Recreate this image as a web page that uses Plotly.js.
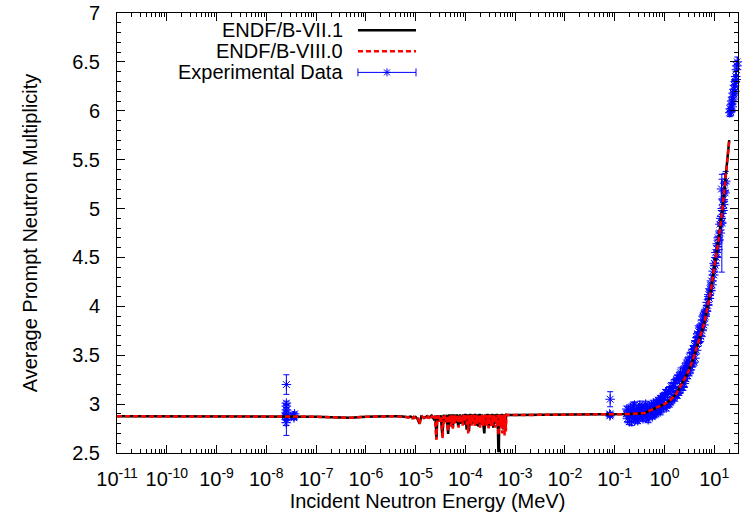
<!DOCTYPE html>
<html>
<head>
<meta charset="utf-8">
<script src="https://cdn.plot.ly/plotly-3.0.1.min.js"></script>
<style>html,body{margin:0;padding:0;background:#fff;}#chart{width:744px;height:520px;}</style>
</head>
<body>
<div id="chart"></div>
<script>
// ---------- smooth parts of the evaluated curves (MeV, nu-bar) ----------
const lowE  = [1e-11, 1e-9, 2.5e-8, 1e-7, 2e-7, 3.5e-7, 5e-7, 8e-7, 1.5e-6, 4e-6];
const lowNu = [2.875, 2.875, 2.875, 2.872, 2.865, 2.858, 2.860, 2.868, 2.874, 2.875];

const highE  = [1e-3, 1e-2, 0.05, 0.1, 0.2, 0.4, 0.7, 1.0, 1.3, 1.7, 2.3, 3.0, 3.7, 5.0, 6.3, 7.4, 8.6, 10, 12.6, 15, 17, 20];
const highNu = [2.888, 2.889, 2.892, 2.895, 2.898, 2.91, 2.96, 3.00, 3.04, 3.10, 3.22, 3.33, 3.45, 3.66, 3.83, 4.00, 4.17, 4.40, 4.73, 5.05, 5.32, 5.70];

// ---------- resolved resonance region, ENDF/B-VII.1 ----------
const resE71 = [5.5e-6, 7e-6, 8e-6, 9e-6, 1.0e-5, 1.1e-5, 1.2e-5, 1.3e-5, 1.5e-5, 1.7e-5, 1.9e-5, 2.1e-5, 2.3e-5, 2.5e-5, 2.62e-5, 2.75e-5,
  3.0e-5, 3.2e-5, 3.45e-5, 3.65e-5, 3.9e-5, 4.2e-5, 4.5e-5, 4.75e-5, 5.0e-5, 5.3e-5, 5.6e-5, 5.9e-5, 6.3e-5, 6.7e-5, 7.2e-5, 7.7e-5,
  8.3e-5, 8.9e-5, 9.5e-5, 1.0e-4, 1.06e-4, 1.12e-4, 1.18e-4, 1.25e-4, 1.32e-4, 1.40e-4, 1.48e-4, 1.56e-4, 1.65e-4, 1.74e-4, 1.84e-4,
  1.94e-4, 2.05e-4, 2.16e-4, 2.28e-4, 2.40e-4, 2.52e-4, 2.65e-4, 2.79e-4, 2.94e-4, 3.1e-4, 3.27e-4, 3.45e-4, 3.64e-4, 3.84e-4, 4.05e-4,
  4.27e-4, 4.5e-4, 4.6e-4, 4.7e-4, 4.8e-4, 5.1e-4, 5.4e-4, 5.7e-4, 6.0e-4, 6.3e-4, 6.6e-4, 7.0e-4];
const resNu71 = [2.874, 2.865, 2.872, 2.858, 2.868, 2.845, 2.80, 2.874, 2.86, 2.876, 2.865, 2.882, 2.85, 2.88, 2.65, 2.885,
  2.83, 2.885, 2.67, 2.89, 2.82, 2.89, 2.695, 2.895, 2.80, 2.895, 2.76, 2.895, 2.81, 2.895, 2.77, 2.895,
  2.80, 2.895, 2.79, 2.90, 2.74, 2.895, 2.72, 2.90, 2.79, 2.895, 2.80, 2.90, 2.78, 2.895, 2.77,
  2.90, 2.79, 2.895, 2.76, 2.70, 2.895, 2.80, 2.90, 2.77, 2.895, 2.79, 2.90, 2.76, 2.895, 2.80,
  2.90, 2.75, 2.52, 2.52, 2.895, 2.77, 2.90, 2.74, 2.895, 2.73, 2.89, 2.888];

// ---------- resolved resonance region, ENDF/B-VIII.0 ----------
const resE80 = [5.5e-6, 6.5e-6, 7.2e-6, 7.8e-6, 8.5e-6, 9.2e-6, 1.0e-5, 1.08e-5, 1.15e-5, 1.2e-5, 1.25e-5, 1.35e-5, 1.45e-5, 1.55e-5,
  1.65e-5, 1.75e-5, 1.85e-5, 1.95e-5, 2.05e-5, 2.15e-5, 2.3e-5, 2.45e-5, 2.55e-5, 2.62e-5, 2.7e-5, 2.8e-5, 2.9e-5, 3.05e-5, 3.2e-5,
  3.4e-5, 3.5e-5, 3.6e-5, 3.75e-5, 3.9e-5, 4.1e-5, 4.3e-5, 4.45e-5, 4.6e-5, 4.8e-5, 5.0e-5, 5.2e-5, 5.4e-5, 5.6e-5, 5.8e-5, 6.0e-5,
  6.3e-5, 6.6e-5, 6.9e-5, 7.3e-5, 7.7e-5, 8.0e-5, 8.4e-5, 8.8e-5, 9.2e-5, 9.6e-5, 1.0e-4, 1.05e-4, 1.1e-4, 1.14e-4, 1.18e-4, 1.23e-4,
  1.28e-4, 1.33e-4, 1.38e-4, 1.43e-4, 1.48e-4, 1.53e-4, 1.58e-4, 1.63e-4, 1.68e-4, 1.74e-4, 1.80e-4, 1.86e-4, 1.92e-4, 1.98e-4,
  2.05e-4, 2.12e-4, 2.19e-4, 2.26e-4, 2.33e-4, 2.41e-4, 2.49e-4, 2.57e-4, 2.65e-4, 2.74e-4, 2.83e-4, 2.92e-4, 3.01e-4, 3.11e-4,
  3.21e-4, 3.31e-4, 3.42e-4, 3.53e-4, 3.64e-4, 3.76e-4, 3.88e-4, 4.0e-4, 4.13e-4, 4.26e-4, 4.40e-4, 4.54e-4, 4.63e-4, 4.72e-4,
  4.87e-4, 5.02e-4, 5.18e-4, 5.34e-4, 5.5e-4, 5.66e-4, 5.82e-4, 5.98e-4, 6.14e-4, 6.3e-4, 6.5e-4, 6.7e-4, 7.0e-4];
const resNu80 = [2.874, 2.868, 2.862, 2.872, 2.855, 2.870, 2.850, 2.868, 2.835, 2.79, 2.862, 2.876, 2.858, 2.873,
  2.85, 2.874, 2.862, 2.878, 2.86, 2.88, 2.845, 2.88, 2.70, 2.635, 2.88, 2.84, 2.885, 2.82, 2.88,
  2.66, 2.65, 2.88, 2.80, 2.885, 2.83, 2.88, 2.72, 2.885, 2.81, 2.89, 2.77, 2.885, 2.75, 2.89, 2.80,
  2.885, 2.82, 2.89, 2.76, 2.89, 2.81, 2.885, 2.78, 2.89, 2.83, 2.89, 2.79, 2.885, 2.70, 2.89, 2.80,
  2.89, 2.78, 2.885, 2.82, 2.89, 2.77, 2.89, 2.80, 2.885, 2.79, 2.89, 2.81, 2.89, 2.76,
  2.885, 2.80, 2.89, 2.78, 2.885, 2.82, 2.89, 2.77, 2.885, 2.79, 2.89, 2.75, 2.89, 2.80,
  2.885, 2.77, 2.89, 2.78, 2.885, 2.81, 2.89, 2.76, 2.885, 2.79, 2.89, 2.74, 2.68, 2.89,
  2.78, 2.885, 2.76, 2.89, 2.70, 2.885, 2.75, 2.89, 2.68, 2.885, 2.72, 2.89, 2.888];

// ---------- experimental data (MeV, nu-bar, uncertainty) ----------
const expE = [
  2.4e-8, 2.53e-8, 2.53e-8, 2.53e-8, 2.53e-8, 2.53e-8, 2.53e-8, 2.6e-8, 2.53e-8, 2.5e-8, 2.55e-8, 3.5e-8, 3.6e-8, 3.7e-8, 3.6e-8,
  0.081, 0.079, 0.082, 0.080,
  0.17, 0.175, 0.18, 0.19, 0.195, 0.20, 0.21, 0.215, 0.22, 0.23, 0.235, 0.24, 0.25, 0.255, 0.26, 0.27, 0.28, 0.29, 0.30, 0.31,
  0.32, 0.33, 0.34, 0.35, 0.36, 0.37, 0.38, 0.39, 0.40, 0.42, 0.43, 0.44, 0.46, 0.47, 0.48, 0.50, 0.52, 0.53, 0.55, 0.57, 0.58,
  0.60, 0.62, 0.63, 0.65, 0.67, 0.68, 0.70, 0.72, 0.74, 0.75, 0.78, 0.80, 0.82, 0.83, 0.86, 0.88, 0.90, 0.93, 0.96, 0.98, 1.00,
  1.05, 1.08, 1.10, 1.15, 1.18, 1.20, 1.25, 1.30, 1.32, 1.35, 1.40, 1.45, 1.50, 1.55, 1.60, 1.65, 1.70, 1.75, 1.80, 1.85, 1.90,
  1.95, 2.00, 2.05, 2.10, 2.15, 2.20, 2.30, 2.35, 2.40, 2.50, 2.55, 2.60, 2.70, 2.75, 2.80, 2.90, 2.95, 3.00, 3.10, 3.20, 3.30,
  3.40, 3.50, 3.60, 3.70, 3.80, 3.90, 4.00, 4.10, 4.20, 4.30, 4.40, 4.50, 4.65, 4.80, 4.90, 5.00, 5.20, 5.40, 5.50, 5.70, 5.80,
  6.00, 6.20, 6.30, 6.60, 6.80, 7.00, 7.20, 7.40, 7.80, 8.00, 8.20, 8.60, 8.80, 9.00, 9.50, 9.80, 10.0, 10.5, 10.8, 11.0, 11.5,
  11.8, 12.0, 12.5, 13.0, 13.2, 13.5, 14.0, 14.0, 14.2, 14.5, 15.0, 15.2, 15.5, 16.0, 16.2, 16.5, 17.0,
  20.5, 21.0, 21.5, 22.0, 22.5, 23.0, 23.5, 24.0, 24.5, 25.0, 25.5, 26.0, 26.5, 27.0, 27.5, 28.0, 28.5, 29.0];
const expNu = [
  2.88, 3.20, 3.01, 2.98, 2.94, 2.91, 2.87, 2.86, 2.84, 2.81, 2.89, 2.88, 2.86, 2.90, 2.875,
  3.05, 2.90, 2.89, 2.88,
  2.90, 2.95, 2.85, 2.94, 2.82, 2.88, 2.96, 2.90, 2.82, 2.91, 2.98, 2.89, 2.99, 2.87, 2.84, 2.93, 2.90, 2.83, 2.96, 2.86,
  2.99, 2.92, 2.89, 2.97, 2.88, 2.85, 2.94, 2.97, 2.91, 3.00, 2.92, 2.86, 2.95, 2.84, 2.92, 2.98, 2.89, 2.95, 2.99, 2.87, 2.93,
  3.01, 2.89, 2.98, 2.95, 2.90, 3.02, 2.93, 2.98, 2.93, 3.04, 2.95, 3.00, 2.92, 3.06, 2.95, 3.05, 3.01, 3.08, 2.97, 3.07, 3.07,
  3.12, 2.96, 3.00, 3.10, 3.01, 3.14, 3.00, 3.12, 3.02, 3.18, 3.04, 3.16, 3.07, 3.21, 3.06, 3.22, 3.10, 3.25, 3.09, 3.27, 3.14,
  3.12, 3.29, 3.14, 3.32, 3.27, 3.18, 3.29, 3.17, 3.35, 3.21, 3.33, 3.38, 3.26, 3.36, 3.42, 3.29, 3.40, 3.44, 3.32, 3.48, 3.35,
  3.38, 3.52, 3.41, 3.53, 3.56, 3.43, 3.60, 3.47, 3.59, 3.65, 3.55, 3.68, 3.72, 3.63, 3.74, 3.67, 3.78, 3.69, 3.81, 3.75, 3.86,
  3.90, 3.81, 3.92, 3.90, 3.96, 3.95, 4.04, 4.01, 4.12, 4.08, 4.18, 4.16, 4.26, 4.22, 4.36, 4.32, 4.44, 4.42, 4.55, 4.50, 4.64,
  4.58, 4.70, 4.68, 4.84, 4.75, 4.90, 4.86, 5.20, 4.85, 5.00, 4.98, 5.09, 5.04, 5.18, 5.26, 5.16, 5.28,
  5.98, 6.02, 5.99, 6.06, 6.10, 6.04, 6.14, 6.18, 6.12, 6.22, 6.26, 6.20, 6.30, 6.35, 6.32, 6.42, 6.46, 6.50];
const expErr = [
  0.02, 0.10, 0.02, 0.015, 0.02, 0.02, 0.03, 0.02, 0.16, 0.03, 0.05, 0.03, 0.02, 0.02, 0.03,
  0.077, 0.015, 0.015, 0.01,
  0.03, 0.03, 0.04, 0.03, 0.03, 0.02, 0.04, 0.02, 0.04, 0.02, 0.04, 0.03, 0.03, 0.03, 0.03, 0.02, 0.05, 0.03, 0.03, 0.02,
  0.04, 0.03, 0.03, 0.03, 0.02, 0.03, 0.04, 0.02, 0.02, 0.03, 0.03, 0.03, 0.02, 0.03, 0.03, 0.03, 0.02, 0.03, 0.03, 0.02, 0.02,
  0.03, 0.03, 0.03, 0.02, 0.03, 0.03, 0.04, 0.02, 0.03, 0.03, 0.03, 0.02, 0.03, 0.03, 0.04, 0.03, 0.03, 0.03, 0.02, 0.03, 0.03,
  0.03, 0.03, 0.04, 0.03, 0.04, 0.03, 0.03, 0.02, 0.03, 0.04, 0.03, 0.03, 0.03, 0.04, 0.03, 0.04, 0.03, 0.04, 0.03, 0.03, 0.03,
  0.03, 0.04, 0.03, 0.05, 0.04, 0.03, 0.04, 0.03, 0.04, 0.03, 0.04, 0.04, 0.03, 0.03, 0.04, 0.03, 0.04, 0.04, 0.03, 0.05, 0.04,
  0.04, 0.04, 0.03, 0.04, 0.04, 0.04, 0.04, 0.05, 0.05, 0.04, 0.04, 0.05, 0.08, 0.04, 0.05, 0.05, 0.04, 0.05, 0.05, 0.05, 0.05,
  0.04, 0.05, 0.05, 0.05, 0.05, 0.05, 0.06, 0.06, 0.05, 0.06, 0.06, 0.05, 0.06, 0.06, 0.06, 0.06, 0.06, 0.07, 0.07, 0.06, 0.07,
  0.07, 0.07, 0.07, 0.08, 0.08, 0.08, 0.08, 0.10, 0.50, 0.08, 0.08, 0.09, 0.09, 0.09, 0.10, 0.09, 0.10,
  0.04, 0.05, 0.04, 0.05, 0.04, 0.05, 0.05, 0.04, 0.05, 0.05, 0.05, 0.04, 0.05, 0.05, 0.04, 0.05, 0.05, 0.05];

// ---------- labels ----------
const seriesNames = ['ENDF/B-VII.1', 'ENDF/B-VIII.0', 'Experimental Data'];
const xTickVals = [1e-11, 1e-10, 1e-9, 1e-8, 1e-7, 1e-6, 1e-5, 1e-4, 1e-3, 1e-2, 1e-1, 1e0, 1e1];
const xTickText = ['-11', '-10', '-9', '-8', '-7', '-6', '-5', '-4', '-3', '-2', '-1', '0', '1'].map(p => '10<sup>' + p + '</sup>');
const xTitle = 'Incident Neutron Energy (MeV)';
const yTitle = 'Average Prompt Neutron Multiplicity';

const FONT = 'Liberation Sans, Arial, Helvetica, sans-serif';
const BLUE = '#0000ff';

const traces = [
  {
    x: expE, y: expNu, type: 'scatter', mode: 'markers', name: seriesNames[2],
    marker: {symbol: 'asterisk-open', size: 8, color: BLUE, line: {color: BLUE, width: 1}},
    error_y: {type: 'data', array: expErr, visible: true, color: BLUE, thickness: 1, width: 3},
    cliponaxis: false
  },
  {
    x: lowE.concat(resE71, highE), y: lowNu.concat(resNu71, highNu),
    type: 'scatter', mode: 'lines', name: seriesNames[0],
    line: {color: '#000000', width: 2.5}
  },
  {
    x: lowE.concat(resE80, highE), y: lowNu.concat(resNu80, highNu),
    type: 'scatter', mode: 'lines', name: seriesNames[1],
    line: {color: '#ff0000', width: 2.5, dash: '5px,3px'}
  }
];

// plot-area geometry (paper fractions) for the gnuplot-style key
const keyTextX = 0.367, keySampleX0 = 0.388, keySampleX1 = 0.4815, keyRowsY = [0.961, 0.913, 0.865];

const annotations = seriesNames.map((n, i) => ({
  text: n, xref: 'paper', yref: 'paper', x: keyTextX, y: keyRowsY[i],
  xanchor: 'right', yanchor: 'middle', showarrow: false,
  font: {family: FONT, size: 20, color: '#000'}
}));

const shapes = [
  {type: 'line', xref: 'paper', yref: 'paper', x0: keySampleX0, x1: keySampleX1, y0: keyRowsY[0], y1: keyRowsY[0], line: {color: '#000', width: 2.5}},
  {type: 'line', xref: 'paper', yref: 'paper', x0: keySampleX0, x1: keySampleX1, y0: keyRowsY[1], y1: keyRowsY[1], line: {color: '#ff0000', width: 2.5, dash: '5px,3px'}},
  {type: 'line', xref: 'paper', yref: 'paper', x0: keySampleX0, x1: keySampleX1, y0: keyRowsY[2], y1: keyRowsY[2], line: {color: BLUE, width: 1}},
  {type: 'line', xref: 'paper', yref: 'paper', ysizemode: 'pixel', yanchor: keyRowsY[2], x0: keySampleX0, x1: keySampleX0, y0: -4, y1: 4, line: {color: BLUE, width: 1}},
  {type: 'line', xref: 'paper', yref: 'paper', ysizemode: 'pixel', yanchor: keyRowsY[2], x0: keySampleX1, x1: keySampleX1, y0: -4, y1: 4, line: {color: BLUE, width: 1}}
];
// asterisk sample in the key
const midX = (keySampleX0 + keySampleX1) / 2;
[[-4, 0, 4, 0], [0, -4, 0, 4], [-3, -3, 3, 3], [-3, 3, 3, -3]].forEach(s => shapes.push({
  type: 'line', xref: 'paper', yref: 'paper', xsizemode: 'pixel', ysizemode: 'pixel', xanchor: midX, yanchor: keyRowsY[2],
  x0: s[0], y0: s[1], x1: s[2], y1: s[3], line: {color: BLUE, width: 1}
}));

const layout = {
  width: 744, height: 520,
  margin: {l: 117, r: 6, t: 13, b: 67, pad: 0},
  paper_bgcolor: '#fff', plot_bgcolor: '#fff',
  showlegend: false,
  font: {family: FONT, size: 20, color: '#000'},
  xaxis: {
    type: 'log', range: [-11, Math.log10(30)], autorange: false,
    tickmode: 'array', tickvals: xTickVals, ticktext: xTickText,
    ticks: 'inside', ticklen: 8, tickwidth: 1, tickcolor: '#000',
    minor: {dtick: 'D1', ticks: 'inside', ticklen: 4, tickwidth: 1, tickcolor: '#000', showgrid: false},
    showline: true, linecolor: '#000', linewidth: 1, mirror: 'ticks',
    showgrid: false, zeroline: false, automargin: false,
    tickfont: {family: FONT, size: 20, color: '#000'}, ticklabelstandoff: 8,
    title: {text: xTitle, font: {family: FONT, size: 20, color: '#000'}, standoff: 0}
  },
  yaxis: {
    range: [2.5, 7], autorange: false, dtick: 0.5, tick0: 2.5,
    ticks: 'inside', ticklen: 8, tickwidth: 1, tickcolor: '#000',
    minor: {dtick: 0.1, ticks: 'inside', ticklen: 4, tickwidth: 1, tickcolor: '#000', showgrid: false},
    showline: true, linecolor: '#000', linewidth: 1, mirror: 'ticks',
    showgrid: false, zeroline: false, automargin: false,
    tickfont: {family: FONT, size: 20, color: '#000'}, ticklabelstandoff: 12,
    title: {text: yTitle, font: {family: FONT, size: 20, color: '#000'}, standoff: 29}
  },
  annotations: annotations,
  shapes: shapes
};

Plotly.newPlot('chart', traces, layout, {displayModeBar: false, staticPlot: true});
</script>
</body>
</html>
